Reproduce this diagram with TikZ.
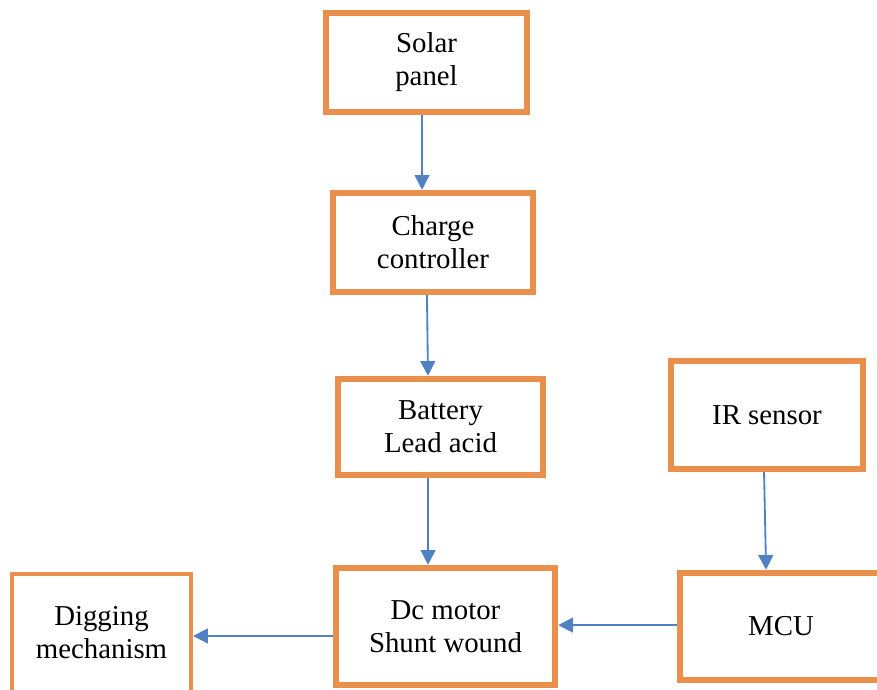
\documentclass[tikz,border=0pt]{standalone}
\usepackage{fontspec}
\setmainfont{Liberation Serif}
\usetikzlibrary{arrows.meta}
\definecolor{boxorange}{RGB}{234,143,76}
\definecolor{flowblue}{RGB}{79,129,195}
\tikzset{
	blk/.style={draw=boxorange, line width=4.5pt, fill=white, inner sep=0pt, align=center,
		font=\fontsize{20.5}{23.4}\selectfont},
	flow/.style={draw=flowblue, line width=1.3pt, -{Triangle[length=10.5pt,width=10.5pt]}}
}

\begin{document}
\begin{tikzpicture}[x=0.025cm, y=-0.025cm]
			%%%%% START %%%%%
			
			\clip (0, 0) rectangle (877, 690);
			
			\node[blk, minimum width=5.025cm, minimum height=2.475cm] (solar) at (426.5, 62.5) {Solar\\panel};
			\node[blk, minimum width=5cm, minimum height=2.475cm] (charge) at (433, 242.5) {Charge\\controller};
			\node[blk, minimum width=5.125cm, minimum height=2.4cm] (battery) at (440.5, 427) {Battery\\Lead acid};
			\node[blk, minimum width=4.8cm, minimum height=2.7cm] (ir) at (767, 415) {IR sensor};
			
			\node[blk, minimum width=5.475cm, minimum height=2.925cm] (motor) at (445.5, 626.5) {Dc motor\\Shunt wound};
			\node[blk, minimum width=5.05cm, minimum height=2.675cm] (mcu) at (781, 626.5) {MCU};
			\node[blk, line width=2.9pt, minimum width=4.475cm, minimum height=2.95cm] (dig) at (101.5, 633) {Digging\\mechanism};
			
			\draw[flow] ([xshift=-3.2pt]solar.south) -- ([xshift=-7.8pt]charge.north);
			\draw[flow] ([xshift=-4.3pt]charge.south) -- ([xshift=-8.9pt]battery.north);
			\draw[flow] ([xshift=-8.9pt]battery.south) -- ([xshift=-12.4pt]motor.north);
			\draw[flow] ([xshift=-2.1pt]ir.south) -- ([xshift=-10.6pt]mcu.north);
			
			\draw[flow] ([yshift=1pt]mcu.west) -- ([yshift=1pt]motor.east);
			\draw[flow] ([yshift=-6.7pt]motor.west) -- ([yshift=-2.1pt]dig.east);
			
			%%%%% END %%%%%
\end{tikzpicture}
\end{document}
